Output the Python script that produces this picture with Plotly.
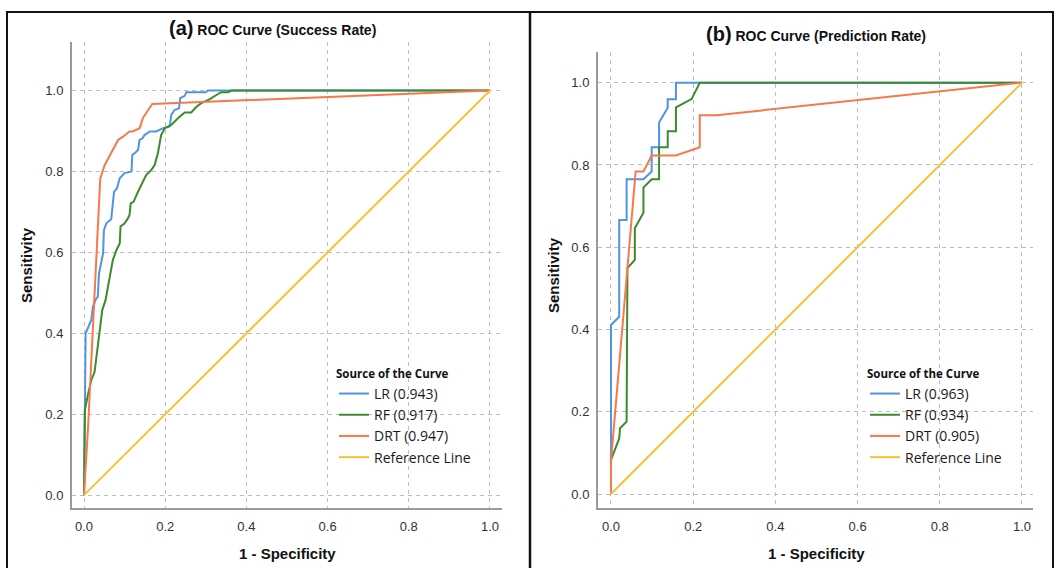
import plotly.graph_objects as go

W, H = 1056, 568

# ---------------- data ----------------
tick_vals = [0.0, 0.2, 0.4, 0.6, 0.8, 1.0]
tick_text = ["0.0", "0.2", "0.4", "0.6", "0.8", "1.0"]

series_names_a = ["LR (0.943)", "RF (0.917)", "DRT (0.947)", "Reference Line"]
series_names_b = ["LR (0.963)", "RF (0.934)", "DRT (0.905)", "Reference Line"]

# (a) Success rate
a_lr_x = [0.0, 0.003, 0.004, 0.018, 0.022, 0.030, 0.034, 0.037, 0.043, 0.047, 0.049, 0.055, 0.067,
          0.071, 0.074, 0.081, 0.088, 0.100, 0.117, 0.119, 0.125, 0.133, 0.137, 0.144, 0.149, 0.162,
          0.178, 0.195, 0.211, 0.215, 0.223, 0.234, 0.237, 0.248, 0.252, 0.268, 0.300, 0.305, 1.0]
a_lr_y = [0.0, 0.22, 0.40, 0.433, 0.466, 0.486, 0.490, 0.548, 0.581, 0.598, 0.655, 0.672, 0.682,
          0.713, 0.750, 0.758, 0.783, 0.796, 0.800, 0.841, 0.845, 0.853, 0.878, 0.882, 0.890, 0.899,
          0.899, 0.907, 0.911, 0.940, 0.952, 0.956, 0.981, 0.987, 0.996, 0.996, 0.996, 1.0, 1.0]

a_rf_x = [0.0, 0.002, 0.010, 0.018, 0.026, 0.034, 0.045, 0.053, 0.062, 0.071, 0.080, 0.088, 0.090,
          0.100, 0.108, 0.112, 0.115, 0.122, 0.133, 0.141, 0.153, 0.166, 0.174, 0.182, 0.190, 0.199,
          0.215, 0.232, 0.248, 0.264, 0.277, 0.289, 0.310, 0.326, 0.338, 0.355, 0.363, 1.0]
a_rf_y = [0.0, 0.21, 0.25, 0.284, 0.305, 0.367, 0.458, 0.482, 0.532, 0.581, 0.606, 0.622, 0.664,
          0.672, 0.684, 0.692, 0.721, 0.725, 0.750, 0.767, 0.791, 0.804, 0.816, 0.845, 0.890, 0.907,
          0.915, 0.932, 0.946, 0.946, 0.960, 0.969, 0.979, 0.989, 0.996, 0.996, 1.0, 1.0]

a_drt_x = [0.0, 0.010, 0.022, 0.034, 0.040, 0.051, 0.067, 0.084, 0.096, 0.112, 0.120, 0.137, 0.145,
           0.157, 0.168, 1.0]
a_drt_y = [0.0, 0.169, 0.416, 0.639, 0.783, 0.816, 0.845, 0.878, 0.886, 0.899, 0.899, 0.907, 0.932,
           0.952, 0.967, 1.0]

# (b) Prediction rate
b_lr_x = [0.0, 0.0, 0.020, 0.020, 0.038, 0.038, 0.079, 0.099, 0.099, 0.117, 0.117, 0.138, 0.138,
          0.158, 0.158, 1.0]
b_lr_y = [0.0, 0.411, 0.431, 0.666, 0.666, 0.765, 0.765, 0.784, 0.843, 0.843, 0.903, 0.939, 0.960,
          0.960, 1.0, 1.0]

b_rf_x = [0.0, 0.0, 0.020, 0.022, 0.038, 0.040, 0.058, 0.058, 0.079, 0.079, 0.099, 0.117, 0.117,
          0.138, 0.138, 0.158, 0.158, 0.196, 0.216, 1.0]
b_rf_y = [0.0, 0.083, 0.135, 0.160, 0.176, 0.549, 0.569, 0.646, 0.684, 0.745, 0.765, 0.765, 0.843,
          0.843, 0.882, 0.882, 0.940, 0.960, 1.0, 1.0]

b_drt_x = [0.0, 0.0, 0.060, 0.079, 0.099, 0.158, 0.216, 0.216, 0.257, 1.0]
b_drt_y = [0.0, 0.08, 0.784, 0.784, 0.823, 0.823, 0.843, 0.921, 0.921, 1.0]

ref_x = [0.0, 1.0]
ref_y = [0.0, 1.0]

# ---------------- style ----------------
C_LR = "#4f95e3"
C_RF = "#3c8a2c"
C_DRT = "#f7784b"
C_REF = "#f6c235"
colors = [C_LR, C_RF, C_DRT, C_REF]

fig = go.Figure()

panel_a = [(a_lr_x, a_lr_y), (a_rf_x, a_rf_y), (a_drt_x, a_drt_y), (ref_x, ref_y)]
panel_b = [(b_lr_x, b_lr_y), (b_rf_x, b_rf_y), (b_drt_x, b_drt_y), (ref_x, ref_y)]

for i, (xs, ys) in enumerate(panel_a):
    fig.add_trace(go.Scatter(x=xs, y=ys, mode="lines", name=series_names_a[i],
                             line=dict(color=colors[i], width=2), xaxis="x", yaxis="y",
                             legend="legend", legendgroup="a%d" % i))
for i, (xs, ys) in enumerate(panel_b):
    fig.add_trace(go.Scatter(x=xs, y=ys, mode="lines", name=series_names_b[i],
                             line=dict(color=colors[i], width=2), xaxis="x2", yaxis="y2",
                             legend="legend2", legendgroup="b%d" % i))

def px_x(p):
    return p / W

def px_y(p):
    return 1 - p / H

axis_common = dict(
    showline=True, linecolor="#9a9a9a", linewidth=2, zeroline=False,
    showgrid=True, gridcolor="#bdbdbd", gridwidth=1, griddash="4px,4px",
    tickvals=tick_vals, ticktext=tick_text, ticks="",
    tickfont=dict(family="Liberation Sans, Arial", size=13, color="#333333"),
    fixedrange=True,
)

fig.update_layout(
    width=W, height=H,
    margin=dict(l=0, r=0, t=0, b=0),
    paper_bgcolor="white", plot_bgcolor="white",
    showlegend=True,
    xaxis=dict(domain=[px_x(72), px_x(502)], range=[-0.0296, 1.0296], anchor="y",
               ticklabelstandoff=6, **axis_common),
    yaxis=dict(domain=[px_y(507.7), px_y(42)], range=[-0.031, 1.12], anchor="x",
               ticklabelstandoff=4, **axis_common),
    xaxis2=dict(domain=[px_x(598), px_x(1033)], range=[-0.0316, 1.0268], anchor="y2",
                ticklabelstandoff=6, **axis_common),
    yaxis2=dict(domain=[px_y(507.7), px_y(52)], range=[-0.0333, 1.0746], anchor="x2",
                ticklabelstandoff=4, **axis_common),
)

legend_common = dict(
    xanchor="left", yanchor="top",
    bgcolor="rgba(0,0,0,0)", borderwidth=0,
    font=dict(family="Open Sans, Noto Sans", size=14, color="#1a1a1a"),
    title=dict(text="<b>Source of the Curve</b>",
               font=dict(family="Open Sans, Noto Sans", size=11.5, color="#111111")),
    tracegroupgap=0, itemwidth=30, itemclick=False, itemdoubleclick=False,
)
fig.update_layout(
    legend=dict(x=px_x(334), y=px_y(363), **legend_common),
    legend2=dict(x=px_x(865), y=px_y(363), **legend_common),
)

# titles and axis titles
def label(x, y, text, font, angle=0):
    fig.add_annotation(x=px_x(x), y=px_y(y), xref="paper", yref="paper", showarrow=False,
                       xanchor="center", yanchor="middle", text=text, textangle=angle, font=font)

ann_font = dict(family="Liberation Sans, Arial", size=14, color="#111111")
label(272, 28, "<b><span style='font-size:20px'>(a)</span> ROC Curve (Success Rate)</b>", ann_font)
label(816, 34, "<b><span style='font-size:20px'>(b)</span> ROC Curve (Prediction Rate)</b>", ann_font)
ax_font = dict(family="Liberation Sans, Arial", size=15, color="#111111")
label(287, 553, "<b>1 - Specificity</b>", ax_font)
label(816, 553, "<b>1 - Specificity</b>", ax_font)
label(26, 265, "<b>Sensitivity</b>", ax_font, -90)
label(553, 275, "<b>Sensitivity</b>", ax_font, -90)

# frame
fig.add_shape(type="rect", xref="paper", yref="paper",
              x0=px_x(7), x1=px_x(1053), y0=px_y(575), y1=px_y(12),
              line=dict(color="#111111", width=2), layer="above")
fig.add_shape(type="line", xref="paper", yref="paper",
              x0=px_x(530), x1=px_x(530), y0=px_y(575), y1=px_y(12),
              line=dict(color="#111111", width=2.5), layer="above")

fig.write_html("out.html", config={"displayModeBar": False},
               post_script="document.body.style.margin='0px';document.body.style.overflow='hidden';")
